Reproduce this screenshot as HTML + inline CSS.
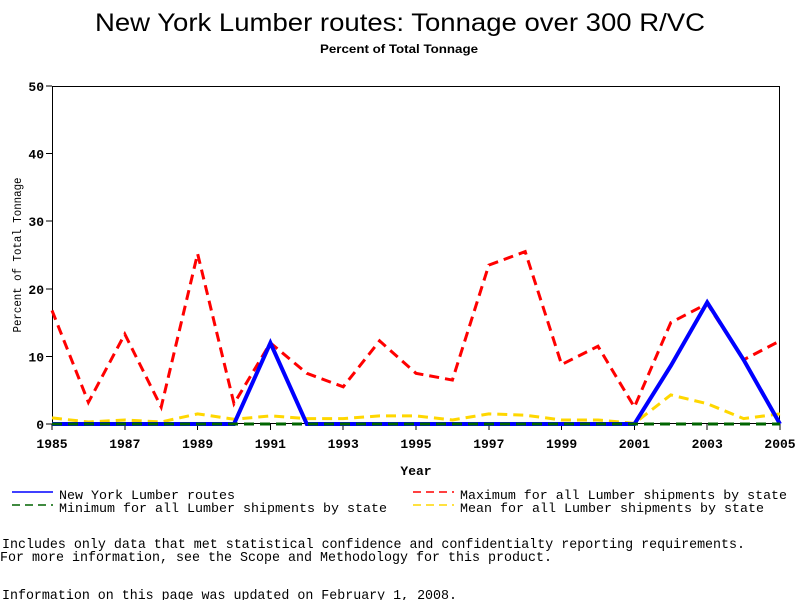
<!DOCTYPE html>
<html><head><meta charset="utf-8"><style>
body{margin:0;background:#fff;}
svg{display:block;}
</style></head><body>
<svg id="chart" width="800" height="600" xmlns="http://www.w3.org/2000/svg" font-family="Liberation Mono, monospace">
<text x="400" y="31" text-anchor="middle" font-family="Liberation Sans, sans-serif" font-size="25" textLength="610" lengthAdjust="spacingAndGlyphs">New York Lumber routes: Tonnage over 300 R/VC</text>
<text x="399" y="53" text-anchor="middle" font-family="Liberation Sans, sans-serif" font-size="12" font-weight="bold" textLength="158" lengthAdjust="spacingAndGlyphs">Percent of Total Tonnage</text>
<rect x="52.5" y="86.5" width="727" height="337" fill="none" stroke="#000" stroke-width="1" shape-rendering="crispEdges"/>
<g id="yaxis"></g>
<g id="xaxis"></g>
<text transform="translate(21,255) rotate(-90)" text-anchor="middle" font-size="12" textLength="155" lengthAdjust="spacingAndGlyphs">Percent of Total Tonnage</text>
<text x="416" y="475" text-anchor="middle" font-size="13" font-weight="bold">Year</text>
<g id="series"></g>
<g font-size="13">
<g><line x1="12" y1="492" x2="53" y2="492" stroke="#0000ff" stroke-width="1.5"/><text x="59" y="499" textLength="176" lengthAdjust="spacingAndGlyphs">New York Lumber routes</text></g>
<g><line x1="12" y1="505" x2="53" y2="505" stroke="#006400" stroke-width="1.5" stroke-dasharray="8,5"/><text x="59" y="512" textLength="328" lengthAdjust="spacingAndGlyphs">Minimum for all Lumber shipments by state</text></g>
<g><line x1="413" y1="492" x2="454" y2="492" stroke="#ff0000" stroke-width="1.5" stroke-dasharray="8,5"/><text x="460" y="499" textLength="327" lengthAdjust="spacingAndGlyphs">Maximum for all Lumber shipments by state</text></g>
<g><line x1="413" y1="505" x2="454" y2="505" stroke="#ffd700" stroke-width="1.5" stroke-dasharray="8,5"/><text x="460" y="512" textLength="304" lengthAdjust="spacingAndGlyphs">Mean for all Lumber shipments by state</text></g>
</g>
<g font-size="14">
<text x="2" y="548" textLength="743" lengthAdjust="spacingAndGlyphs">Includes only data that met statistical confidence and confidentialty reporting requirements.</text>
<text x="0" y="561" textLength="552" lengthAdjust="spacingAndGlyphs">For more information, see the Scope and Methodology for this product.</text>
<text x="2" y="599" textLength="455" lengthAdjust="spacingAndGlyphs">Information on this page was updated on February 1, 2008.</text>
</g>
</svg>
<script>
const years=[1985,1986,1987,1988,1989,1990,1991,1992,1993,1994,1995,1996,1997,1998,1999,2000,2001,2002,2003,2004,2005];
const nyValues=[0,0,0,0,0,0,12,0,0,0,0,0,0,0,0,0,0,8.6,18,9.5,0];
const maxValues=[16.8,3.2,13.3,2.5,25.2,3,12,7.5,5.5,12.3,7.5,6.5,23.5,25.5,8.8,11.5,2.5,15,17.8,9.5,12.3];
const minValues=[0,0,0,0,0,0,0,0,0,0,0,0,0,0,0,0,0,0,0,0,0];
const meanValues=[0.9,0.3,0.6,0.3,1.5,0.7,1.2,0.8,0.8,1.2,1.2,0.6,1.5,1.3,0.6,0.6,0.1,4.3,3.0,0.8,1.5];
const yTicks=[0,10,20,30,40,50];
const xTickLabels=[1985,1987,1989,1991,1993,1995,1997,1999,2001,2003,2005];
const NS='http://www.w3.org/2000/svg';
const xS=y=>52+(y-1985)*(728/20);
const yS=v=>424-v*(338/50);
function mk(t,a,p){const e=document.createElementNS(NS,t);for(const k in a)e.setAttribute(k,a[k]);p.appendChild(e);return e;}
const ya=document.getElementById('yaxis'),xa=document.getElementById('xaxis'),sg=document.getElementById('series');
yTicks.forEach(v=>{
 const l=mk('line',{x1:46,x2:52,y1:yS(v),y2:yS(v),stroke:'#000','shape-rendering':'crispEdges'},ya);
 
 
 const t=mk('text',{x:44,y:yS(v)+5,'text-anchor':'end','font-size':13,'font-weight':'bold'},ya);
 t.textContent=v;
 
 
});
xTickLabels.forEach(v=>{
 const l=mk('line',{x1:xS(v),x2:xS(v),y1:424,y2:430,stroke:'#000','shape-rendering':'crispEdges'},xa);
 
 
 const t=mk('text',{x:xS(v),y:448,'text-anchor':'middle','font-size':13,'font-weight':'bold'},xa);
 t.textContent=v;
 
 
});
function pts(vals){return vals.map((v,i)=>xS(years[i])+','+yS(v)).join(' ');}
const pMean=mk('polyline',{points:pts(meanValues),fill:'none',stroke:'#ffd700','stroke-width':3,'stroke-dasharray':'10,6'},sg);


const pMax=mk('polyline',{points:pts(maxValues),fill:'none',stroke:'#ff0000','stroke-width':3,'stroke-dasharray':'10,6'},sg);


const pNy=mk('polyline',{points:pts(nyValues),fill:'none',stroke:'#0000ff','stroke-width':4},sg);


const pMin=mk('polyline',{points:pts(minValues),fill:'none',stroke:'#006400','stroke-width':3,'stroke-dasharray':'10,6'},sg);


</script>
</body></html>
